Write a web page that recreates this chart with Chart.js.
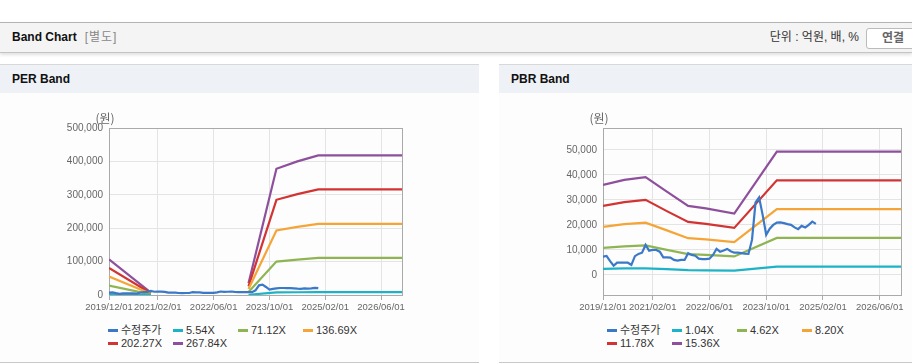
<!DOCTYPE html>
<html>
<head>
<meta charset="utf-8">
<script src="https://cdn.jsdelivr.net/npm/chart.js@4"></script>
<style>
body{margin:0;width:912px;height:364px;overflow:hidden;background:#fff;position:relative;
  font-family:"Liberation Sans","Noto Sans CJK KR",sans-serif;color:#222}
.topbar{position:absolute;left:0;top:22px;width:912px;height:29px;background:#f4f4f4;
  border-top:1px solid #b4b4b4;border-bottom:1px solid #c4c4c4;box-shadow:0 2px 3px rgba(0,0,0,.12)}
.topbar .ttl{position:absolute;left:12px;top:0;line-height:29px;font-size:12px;font-weight:bold;color:#111}
.topbar .sub{color:#888;font-weight:normal;margin-left:8px;letter-spacing:1px}
.topbar .unit{position:absolute;right:53px;top:0;line-height:29px;font-size:12px;color:#333}
.topbar .btn{position:absolute;left:866px;top:5px;width:52px;height:19px;border:1px solid #bbb;border-radius:3px;
  background:#fff;font-size:12px;font-weight:bold;color:#666;line-height:19px;text-align:center}
.panel{position:absolute;top:64px;height:297px;border-top:1px solid #d8d8d8;border-bottom:1px solid #c8c8c8;background:#fdfdfd}
.panel .hd{height:28px;background:#eef2f7;line-height:28px;padding-left:12px;font-size:12px;font-weight:bold;color:#111}
.chartbox{position:absolute;top:100px}
.legend{position:absolute;top:324px;width:264px;display:flex;flex-wrap:wrap;font-size:11px;line-height:13px;color:#333}
.legend span.it{width:65px;display:flex;align-items:center;white-space:nowrap}
.legend i{display:inline-block;width:10px;height:3px;margin-right:3px}
</style>
</head>
<body>
<div class="topbar">
  <div class="ttl">Band Chart<span class="sub">[별도]</span></div>
  <div class="unit">단위 : 억원, 배, %</div>
  <div class="btn">연결</div>
</div>
<div class="panel" style="left:0;width:479px"><div class="hd">PER Band</div></div>
<div class="panel" style="left:499px;width:430px"><div class="hd">PBR Band</div></div>

<div class="chartbox" style="left:40px"><canvas id="per" width="380" height="215"></canvas></div>
<div class="chartbox" style="left:534px"><canvas id="pbr" width="378" height="215"></canvas></div>
<div class="legend" id="perLegend" style="left:108px"></div>
<div class="legend" id="pbrLegend" style="left:607px"></div>

<script>
// months counted from 2019/12/01
const xTickMonths = [0, 14, 30, 46, 62, 78];
const xTickLabels = ['2019/12/01', '2021/02/01', '2022/06/01', '2023/10/01', '2025/02/01', '2026/06/01'];

const perYTicks = [0, 100000, 200000, 300000, 400000, 500000];
const pbrYTicks = [0, 10000, 20000, 30000, 40000, 50000];

// 수정주가, one value per month from 2019/12
const price = [7300, 7600, 5500, 3700, 4900, 4900, 4900, 4900, 4000, 7500,
  8400, 8900, 12000, 9700, 10000, 10000, 9300, 7000, 7000, 6900,
  6000, 5700, 6000, 6000, 8700, 8000, 7700, 6500, 6300, 6300,
  6500, 8000, 10400, 9300, 9800, 10400, 9500, 8900, 8900, 8700,
  8500, 8400, 14000, 29000, 31000, 24000, 16000, 18500, 20000, 20900,
  21000, 20700, 20300, 20000, 19000, 18300, 19600, 19000, 20000, 21300, 20400];

// PER band
const perLabels = ['5.54X', '71.12X', '136.69X', '202.27X', '267.84X'];
const perMonths = [0, 12, 26, 40, 48, 54, 60, 84];
const per554 = [2200, 150, null, 700, 7800, 8300, 8600, 8600];
const per7112 = [28000, 1900, null, 9000, 100000, 106000, 111000, 111000];
const per13669 = [55000, 3600, null, 18000, 193000, 204000, 213000, 213000];
const per20227 = [81000, 5300, null, 26000, 285000, 302000, 316000, 316000];
const per26784 = [107000, 7000, null, 35000, 378000, 400000, 418000, 418000];

// PBR band
const pbrLabels = ['1.04X', '4.62X', '8.20X', '11.78X', '15.36X'];
const pbrMonths = [0, 6, 12, 18, 24, 29, 37, 49, 84];
const pbr104 = [2400, 2600, 2600, 2300, 1900, 1800, 1700, 3300, 3300];
const pbr462 = [10800, 11400, 11800, 10000, 8300, 8000, 7400, 14800, 14800];
const pbr820 = [19200, 20300, 20900, 17800, 14700, 14200, 13100, 26300, 26300];
const pbr1178 = [27600, 29100, 30000, 25500, 21200, 20400, 18800, 37800, 37800];
const pbr1536 = [36000, 38000, 39100, 33300, 27600, 26600, 24500, 49300, 49300];

const colors = ['#3a78c8', '#1cb3c6', '#8fb552', '#f5a537', '#d23333', '#8e4f9c'];

function pts(months, vals) {
  return vals.map((v, i) => ({x: months[i], y: v}));
}

function series(bandLabels, months, bands) {
  const out = [{label: '수정주가', data: price.map((v, i) => ({x: i, y: v}))}];
  bands.forEach((b, i) => out.push({label: bandLabels[i], data: pts(months, b)}));
  return out.map((d, i) => Object.assign(d, {
    borderColor: colors[i], backgroundColor: colors[i], borderWidth: 2.2,
    pointRadius: 0, tension: 0, fill: false, spanGaps: false
  }));
}

const frame = {
  id: 'frame',
  beforeDatasetsDraw(chart) {
    const {ctx, chartArea: a} = chart;
    ctx.save();
    ctx.strokeStyle = '#aaa';
    ctx.lineWidth = 1;
    ctx.strokeRect(Math.round(a.left) + 0.5, Math.round(a.top) + 0.5,
      Math.round(a.right - a.left), Math.round(a.bottom - a.top));
    ctx.restore();
  },
  afterDraw(chart) {
    const {ctx, chartArea: a} = chart;
    ctx.save();
    ctx.fillStyle = '#666';
    ctx.font = '12px "Noto Sans CJK KR"';
    ctx.textAlign = 'center';
    ctx.textBaseline = 'middle';
    ctx.fillText('(원)', a.left - 4, a.top - 10);
    ctx.restore();
  }
};

function makeChart(id, datasets, yMin, yMax, yTicks, padRight) {
  return new Chart(document.getElementById(id), {
    type: 'line',
    data: {datasets: datasets},
    options: {
      responsive: false,
      animation: false,
      devicePixelRatio: 1,
      layout: {padding: {top: 28, right: padRight, left: 0, bottom: 0}},
      plugins: {legend: {display: false}, tooltip: {enabled: false}},
      scales: {
        x: {
          type: 'linear', min: 0, max: 84,
          afterBuildTicks: s => { s.ticks = xTickMonths.map(v => ({value: v})); },
          afterFit: s => { s.height = 20; },
          ticks: {
            callback: (v, i) => xTickLabels[i],
            color: '#666', font: {size: 9.5, family: 'Liberation Sans'},
            padding: 2, maxRotation: 0, autoSkip: false
          },
          grid: {color: '#e4e4e4', tickColor: '#aaa', tickLength: 5},
          border: {display: false}
        },
        y: {
          min: yMin, max: yMax,
          afterBuildTicks: s => { s.ticks = yTicks.map(v => ({value: v})); },
          afterFit: s => { s.width = 69; },
          ticks: {
            callback: v => v.toLocaleString('en-US'),
            color: '#666', font: {size: 10, family: 'Liberation Sans'}, padding: 6
          },
          grid: {color: '#e4e4e4', drawTicks: false},
          border: {display: false}
        }
      }
    },
    plugins: [frame]
  });
}

function buildLegend(chart, id) {
  const box = document.getElementById(id);
  chart.data.datasets.forEach(ds => {
    const it = document.createElement('span');
    it.className = 'it';
    const mk = document.createElement('i');
    mk.style.background = ds.borderColor;
    it.appendChild(mk);
    it.appendChild(document.createTextNode(ds.label));
    box.appendChild(it);
  });
}

const perChart = makeChart('per',
  series(perLabels, perMonths, [per554, per7112, per13669, per20227, per26784]),
  0, 500000, perYTicks, 18);
const pbrChart = makeChart('pbr',
  series(pbrLabels, pbrMonths, [pbr104, pbr462, pbr820, pbr1178, pbr1536]),
  -8000, 58700, pbrYTicks, 11);

buildLegend(perChart, 'perLegend');
buildLegend(pbrChart, 'pbrLegend');
</script>
</body>
</html>
